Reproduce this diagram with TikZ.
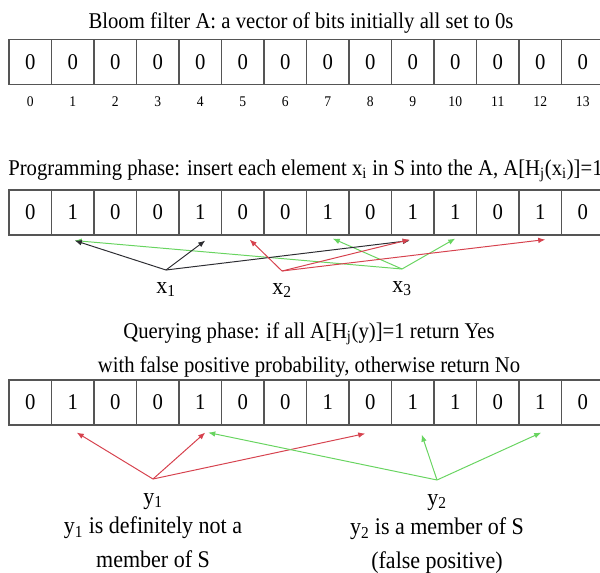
\documentclass[tikz,border=0pt]{standalone}
\usepackage{fontspec}
\setmainfont[FakeStretch=0.92]{Liberation Serif}
\usepackage{tikz}
\usetikzlibrary{
  arrows.meta,
  positioning,
  calc
}
\usepackage{xcolor}
\definecolor{hashred}{RGB}{214,66,78}
\definecolor{hashgreen}{RGB}{104,212,96}
\definecolor{hashblack}{RGB}{45,45,50}
\definecolor{cellline}{RGB}{85,85,85}

\tikzset{
  cell/.style={draw=cellline, line width=0.8pt, inner sep=0pt,
    minimum width=1.0625cm, minimum height=1.125cm,
    font=\fontsize{16}{16}\selectfont},
  idx/.style={font=\fontsize{10.5}{10.5}\selectfont, inner sep=0pt, anchor=base},
  caption/.style={font=\fontsize{16}{19}\selectfont, inner sep=0pt, anchor=base},
  elem/.style={font=\fontsize{17}{17}\selectfont, inner sep=0pt},
  verdict/.style={font=\fontsize{17}{24}\selectfont, align=center, inner sep=0pt},
  hash/.style={-{Latex[length=5pt,width=4pt]}, line width=0.7pt}
}

\begin{document}
\begin{tikzpicture}[x=0.025cm, y=-0.025cm]
  \useasboundingbox (0,0) rectangle (600,573);

  % empty filter
  \node[caption] (title) at (301,28)
    {Bloom filter A: a vector of bits initially all set to 0s};
  \foreach \b [count=\i from 0] in {0,0,0,0,0,0,0,0,0,0,0,0,0,0} {
    \node[cell] (a\i) at ({9+42.5*(\i+0.5)},62) {\b};
    \node[idx] (n\i) at ($(a\i.south)+(0,21)$) {\i};
  }

  % programming phase
  \node[caption, anchor=base west] (prog) at (8,175)
    {Programming phase: insert each element x\textsubscript{i} in S into the A,
     A[H\textsubscript{j}(x\textsubscript{i})]=1};
  \foreach \b [count=\i from 0] in {0,1,0,0,1,0,0,1,0,1,1,0,1,0}
    \node[cell] (p\i) at ({9+42.5*(\i+0.5)},212.5) {\b};

  \coordinate (vx1) at (166,270);
  \coordinate (vx2) at (282,271);
  \coordinate (vx3) at (402,269);
  \node[elem, below=3mm of vx1] (x1) {x\textsubscript{1}};
  \node[elem, below=3mm of vx2] (x2) {x\textsubscript{2}};
  \node[elem, below=3mm of vx3] (x3) {x\textsubscript{3}};

  \draw[hash, hashgreen] (vx3) -- ([shift={(2,5)}]p1.south);
  \draw[hash, hashgreen] (vx3) -- ([shift={(5,3)}]p7.south);
  \draw[hash, hashgreen] (vx3) -- ([shift={(0,3)}]p10.south);
  \draw[hash, hashblack] (vx1) -- ([shift={(2,5)}]p1.south);
  \draw[hash, hashblack] (vx1) -- ([shift={(5,5)}]p4.south);
  \draw[hash, hashblack] (vx1) -- ([shift={(-3,5)}]p9.south);
  \draw[hash, hashred] (vx2) -- ([shift={(7,4)}]p5.south);
  \draw[hash, hashred] (vx2) -- ([shift={(-3,4)}]p9.south);
  \draw[hash, hashred] (vx2) -- ([shift={(5,4)}]p12.south);

  % querying phase
  \node[caption] (query) at (309,338)
    {Querying phase: if all A[H\textsubscript{j}(y)]=1 return Yes};
  \node[caption] (query2) at (309,372)
    {with false positive probability, otherwise return No};
  \foreach \b [count=\i from 0] in {0,1,0,0,1,0,0,1,0,1,1,0,1,0}
    \node[cell] (q\i) at ({9+42.5*(\i+0.5)},402.5) {\b};

  \coordinate (vy1) at (153,479);
  \coordinate (vy2) at (437,480);
  \node[elem, below=3.5mm of vy1] (y1) {y\textsubscript{1}};
  \node[elem, below=3.5mm of vy2] (y2) {y\textsubscript{2}};

  \draw[hash, hashred] (vy1) -- ([shift={(4,7)}]q1.south);
  \draw[hash, hashred] (vy1) -- ([shift={(5,7)}]q4.south);
  \draw[hash, hashred] (vy1) -- ([shift={(-5,8)}]q8.south);
  \draw[hash, hashgreen] (vy2) -- ([shift={(8,7)}]q4.south);
  \draw[hash, hashgreen] (vy2) -- ([shift={(9,9)}]q9.south);
  \draw[hash, hashgreen] (vy2) -- ([shift={(1,7)}]q12.south);

  \node[verdict, below=1.75mm of y1] (no)
    {y\textsubscript{1} is definitely not a\\ member of S};
  \node[verdict, below=1.75mm of y2] (fp)
    {y\textsubscript{2} is a member of S\\ (false positive)};
\end{tikzpicture}
\end{document}
